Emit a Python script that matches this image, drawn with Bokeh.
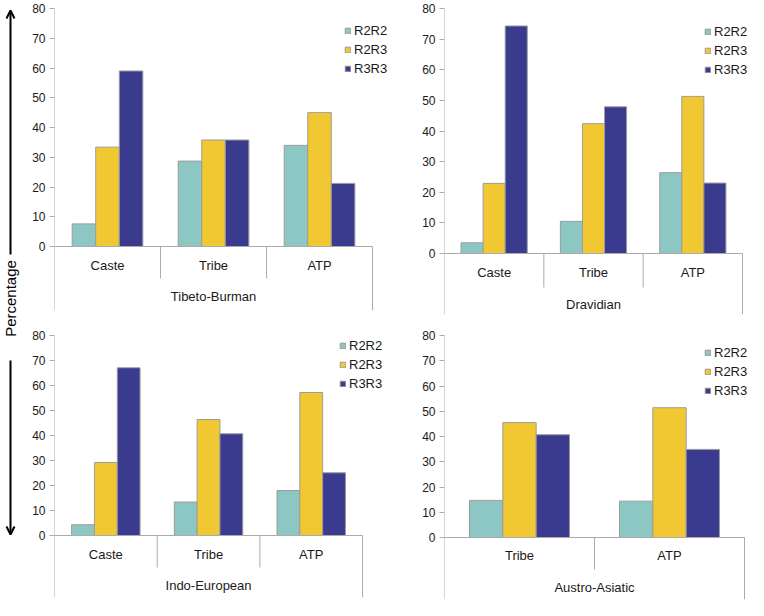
from bokeh.plotting import figure
from bokeh.models import (Range1d, ColumnDataSource, FixedTicker,
                          Arrow, OpenHead, Label)
from bokeh.transform import dodge
from bokeh.layouts import row, column
from bokeh.core.properties import value
from bokeh.embed import file_html
from bokeh.resources import INLINE

# ---------------- data ----------------
series = ["R2R2", "R2R3", "R3R3"]
y_ticks = [0, 10, 20, 30, 40, 50, 60, 70, 80]

tb_cats = ["Caste", "Tribe", "ATP"]
tb_r2r2 = [7.6, 28.7, 34.0]
tb_r2r3 = [33.4, 35.8, 45.0]
tb_r3r3 = [59.0, 35.8, 21.2]

dr_cats = ["Caste", "Tribe", "ATP"]
dr_r2r2 = [3.5, 10.5, 26.4]
dr_r2r3 = [22.9, 42.4, 51.3]
dr_r3r3 = [74.3, 47.9, 23.0]

ie_cats = ["Caste", "Tribe", "ATP"]
ie_r2r2 = [4.3, 13.4, 18.0]
ie_r2r3 = [29.2, 46.4, 57.2]
ie_r3r3 = [67.1, 40.7, 25.1]

aa_cats = ["Tribe", "ATP"]
aa_r2r2 = [14.7, 14.4]
aa_r2r3 = [45.5, 51.4]
aa_r3r3 = [40.7, 34.9]

groups = ["Tibeto-Burman", "Dravidian", "Indo-European", "Austro-Asiatic"]
y_label = "Percentage"

# ---------------- style ----------------
COLORS = ["#8CC7C3", "#F2C832", "#3A3B8F"]
GRAY = "#ABABAB"
EDGE = "#9C9C9C"
FONT = "Liberation Sans"
TXT = "#1a1a1a"
BW = 0.2222


def make_panel(cats, vals, group, width, height, bl, bt, bb, zero_px, data_px,
               sep_px, cat_px, grp_px, leg_x, leg_top):
    n = len(cats)
    fh = height - bt - bb
    fw = width - bl
    s = zero_px / 80.0
    u = data_px / n
    ymin = -(fh - zero_px) / s
    p = figure(width=width, height=height, x_range=Range1d(0, fw / u),
               y_range=Range1d(ymin, 80),
               toolbar_location=None, output_backend="svg", x_axis_location=None,
               min_border_left=bl, min_border_right=0,
               min_border_top=bt, min_border_bottom=bb)
    p.outline_line_color = None
    p.grid.visible = False
    p.background_fill_color = "white"
    p.border_fill_color = "white"

    ax = p.yaxis[0]
    ax.ticker = FixedTicker(ticks=y_ticks, minor_ticks=[])
    ax.axis_line_color = None
    ax.major_tick_line_color = GRAY
    ax.major_tick_in = 0
    ax.major_tick_out = 5
    ax.minor_tick_out = 0
    ax.minor_tick_in = 0
    ax.major_label_standoff = 4
    ax.major_label_text_font = FONT
    ax.major_label_text_font_size = "12px"
    ax.major_label_text_color = TXT

    xs = [i + 0.5 for i in range(n)]
    src = ColumnDataSource(dict(x=xs, cat=cats, R2R2=vals[0], R2R3=vals[1], R3R3=vals[2]))
    for i, name in enumerate(series):
        p.vbar(x=dodge("x", (i - 1) * BW), top=name, width=BW,
               source=src, fill_color=COLORS[i], line_color=EDGE, line_width=1,
               legend_label=name)

    # value axis line (continues down as the left side of the category box)
    p.segment(x0=0, y0=ymin, x1=0, y1=80, line_color=GRAY, line_width=1)
    # category axis line
    p.segment(x0=0, y0=0, x1=n, y1=0, line_color=GRAY, line_width=1)
    # separators between categories
    bsrc = ColumnDataSource(dict(b=list(range(1, n))))
    p.segment(x0="b", y0=0, x1="b", y1=-sep_px / s, source=bsrc,
              line_color=GRAY, line_width=1)
    # right border of category box
    p.segment(x0=n, y0=0, x1=n, y1=ymin, line_color=GRAY, line_width=1)

    # category labels
    p.text(x="x", y=-cat_px / s, text="cat", source=src, text_align="center",
           text_baseline="middle", text_font=value(FONT),
           text_font_size=value("13px"), text_color=TXT)
    # group label
    gsrc = ColumnDataSource(dict(x=[n / 2.0], t=[group]))
    p.text(x="x", y=-grp_px / s, text="t", source=gsrc,
           text_align="center", text_baseline="middle", text_font=value(FONT),
           text_font_size=value("13px"), text_color=TXT)

    lg = p.legend[0]
    lg.location = (leg_x, fh - leg_top - 54)
    lg.glyph_width = 7
    lg.glyph_height = 7
    lg.label_standoff = 3
    lg.label_height = 16
    lg.spacing = 3
    lg.padding = 0
    lg.margin = 0
    lg.border_line_color = None
    lg.background_fill_alpha = 0
    lg.label_text_font = FONT
    lg.label_text_font_size = "13px"
    lg.label_text_color = TXT
    return p


p1 = make_panel(tb_cats, [tb_r2r2, tb_r2r3, tb_r3r3], groups[0],
                363, 318, 24, 8, 8, 238, 319, 32, 19, 50, 290, 14)
p2 = make_panel(dr_cats, [dr_r2r2, dr_r2r3, dr_r3r3], groups[1],
                356, 318, 52, 8, 4, 245, 298, 34, 19, 51, 260, 15)
p3 = make_panel(ie_cats, [ie_r2r2, ie_r2r3, ie_r3r3], groups[2],
                363, 282, 24, 17, 3, 200, 309, 32, 19, 50, 285, 2)
p4 = make_panel(aa_cats, [aa_r2r2, aa_r2r3, aa_r3r3], groups[3],
                356, 282, 52, 17, 1, 202, 300, 32, 18, 50, 260, 9)

# left strip with "Percentage" and arrows
H = 600
lf = figure(width=29, height=H, x_range=Range1d(0, 29), y_range=Range1d(0, H),
            toolbar_location=None, output_backend="svg",
            x_axis_location=None, y_axis_location=None,
            min_border_left=0, min_border_right=0, min_border_top=0, min_border_bottom=0)
lf.outline_line_color = None
lf.grid.visible = False
lf.add_layout(Arrow(x_start=10, y_start=H - 254, x_end=10, y_end=H - 10,
                    start_units="screen", end_units="screen",
                    line_color="black", line_width=2,
                    end=OpenHead(size=8, line_width=2, line_color="black")))
lf.add_layout(Arrow(x_start=10, y_start=H - 360, x_end=10, y_end=H - 534,
                    start_units="screen", end_units="screen",
                    line_color="black", line_width=2,
                    end=OpenHead(size=8, line_width=2, line_color="black")))
lf.add_layout(Label(x=10, y=H - 298, x_units="screen", y_units="screen",
                    text=y_label, angle=90, angle_units="deg",
                    text_align="center", text_baseline="middle",
                    text_font=FONT, text_font_size="15px", text_color="black"))

layout = row(lf, column(p1, p3), column(p2, p4))

open("out.html", "w").write(file_html(layout, INLINE))
